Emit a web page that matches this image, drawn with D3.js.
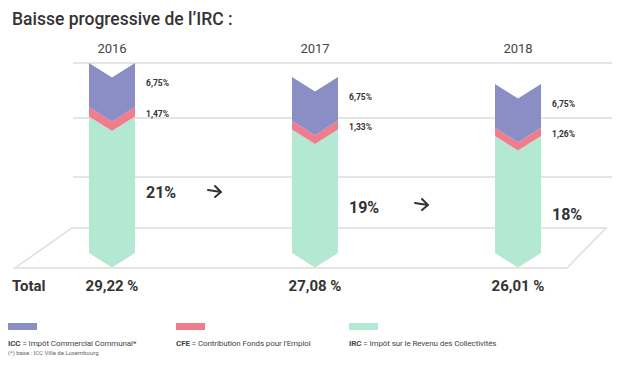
<!DOCTYPE html>
<html>
<head>
<meta charset="utf-8">
<script src="https://cdn.jsdelivr.net/npm/d3@7"></script>
<style>
  body { margin: 0; background: #fff; }
  svg { display: block; font-family: Roboto, "Noto Sans", sans-serif; }
</style>
</head>
<body>
<svg width="621" height="367"></svg>
<script>
// data
var years = ["2016", "2017", "2018"];
var icc = [6.75, 6.75, 6.75];
var cfe = [1.47, 1.33, 1.26];
var irc = [21, 19, 18];
var totals = ["29,22 %", "27,08 %", "26,01 %"];
var iccLabels = ["6,75%", "6,75%", "6,75%"];
var cfeLabels = ["1,47%", "1,33%", "1,26%"];
var ircLabels = ["21%", "19%", "18%"];

var legendItems = [
  { key: "ICC", text: "Impôt Commercial Communal*" },
  { key: "CFE", text: "Contribution Fonds pour l'Emploi" },
  { key: "IRC", text: "Impôt sur le Revenu des Collectivités" }
];

var colors = { ICC: "#8b8ec4", CFE: "#ef7d8c", IRC: "#b3e8d3" };

var svg = d3.select("svg");

// parameters
var barW = 46;
var notch = 14.5;
var gridColor = "#dddddd";

var x = d3.scalePoint().domain(years).range([112, 518]);
var y = d3.scaleLinear().domain([0, 30]).range([253, 58]);

var rows = years.map(function(yr, i) {
  return { year: yr, IRC: irc[i], CFE: cfe[i], ICC: icc[i] };
});
var series = d3.stack().keys(["IRC", "CFE", "ICC"])(rows);

// title
svg.append("text")
  .attr("x", 12)
  .attr("y", 25)
  .attr("font-size", 17.5)
  .attr("font-weight", 500)
  .attr("fill", "#333")
  .text("Baisse progressive de l\u2019IRC :");

// grid lines and floor
var grid = svg.append("g").attr("fill", "none").attr("stroke", gridColor).attr("stroke-width", 1.5);
[63, 118, 177].forEach(function(gy) {
  grid.append("line").attr("x1", 73).attr("x2", 612).attr("y1", gy).attr("y2", gy);
});
grid.append("path")
  .attr("d", "M72,228 L606,228 L567,268 L15,268 Z");

// chevron bars
function chevron(x0, yTop, yBot) {
  var x1 = x0 + barW, xc = x0 + barW / 2;
  return "M" + x0 + "," + yTop + " L" + xc + "," + (yTop + notch) + " L" + x1 + "," + yTop +
    " L" + x1 + "," + yBot + " L" + xc + "," + (yBot + notch) + " L" + x0 + "," + yBot + " Z";
}

svg.append("g").selectAll("g")
  .data(series)
  .enter()
  .append("g")
  .attr("fill", function(s) { return colors[s.key]; })
  .selectAll("path")
  .data(function(s) { return s; })
  .enter()
  .append("path")
  .attr("d", function(d) {
    return chevron(x(d.data.year) - barW / 2, y(d[1]), y(d[0]));
  });

// years
svg.append("g").selectAll("text")
  .data(years)
  .enter()
  .append("text")
  .attr("x", function(d) { return x(d); })
  .attr("y", 53)
  .attr("text-anchor", "middle")
  .attr("font-size", 13)
  .attr("fill", "#444")
  .text(function(d) { return d; });

// small labels
var labelX = function(i) { return x(years[i]) + barW / 2 + 11; };
svg.append("g").selectAll("text")
  .data(iccLabels)
  .enter()
  .append("text")
  .attr("x", function(d, i) { return labelX(i); })
  .attr("y", function(d, i) { return y(irc[i] + cfe[i] + icc[i]) + 23; })
  .attr("font-size", 8.5)
  .attr("font-weight", "bold")
  .attr("fill", "#333")
  .text(function(d) { return d; });

svg.append("g").selectAll("text")
  .data(cfeLabels)
  .enter()
  .append("text")
  .attr("x", function(d, i) { return labelX(i); })
  .attr("y", function(d, i) { return y(irc[i] + cfe[i] / 2) + 5; })
  .attr("font-size", 8.5)
  .attr("font-weight", "bold")
  .attr("fill", "#333")
  .text(function(d) { return d; });

// IRC labels
var ircY = [192, 207, 214];
svg.append("g").selectAll("text")
  .data(ircLabels)
  .enter()
  .append("text")
  .attr("x", function(d, i) { return labelX(i); })
  .attr("y", function(d, i) { return ircY[i] + 6; })
  .attr("font-size", 16)
  .attr("font-weight", "bold")
  .attr("fill", "#333")
  .text(function(d) { return d; });

// arrows between years
var arrowPos = [[208, 191], [415, 204]];
svg.append("g").selectAll("path")
  .data(arrowPos)
  .enter()
  .append("path")
  .attr("transform", function(d) { return "translate(" + d[0] + "," + d[1] + ")"; })
  .attr("d", "M0,-1 L13,1 M7,-5 L13,1 L7,6")
  .attr("fill", "none")
  .attr("stroke", "#333")
  .attr("stroke-width", 2)
  .attr("stroke-linecap", "round")
  .attr("stroke-linejoin", "round");

// totals
svg.append("text")
  .attr("x", 12)
  .attr("y", 291)
  .attr("font-size", 15)
  .attr("font-weight", "bold")
  .attr("fill", "#333")
  .text("Total");

svg.append("g").selectAll("text")
  .data(totals)
  .enter()
  .append("text")
  .attr("x", function(d, i) { return x(years[i]); })
  .attr("y", 291)
  .attr("text-anchor", "middle")
  .attr("font-size", 15)
  .attr("font-weight", "bold")
  .attr("fill", "#333")
  .text(function(d) { return d; });

// legend
var legendX = [8, 176, 349];
var legend = svg.append("g").selectAll("g")
  .data(legendItems)
  .enter()
  .append("g")
  .attr("transform", function(d, i) { return "translate(" + legendX[i] + ",0)"; });

legend.append("rect")
  .attr("x", 0)
  .attr("y", 323)
  .attr("width", 29)
  .attr("height", 7)
  .attr("fill", function(d) { return colors[d.key]; });

var lt = legend.append("text")
  .attr("x", 0)
  .attr("y", 346)
  .attr("font-size", 8)
  .attr("letter-spacing", -0.1)
  .attr("fill", "#444");
lt.append("tspan").attr("font-weight", "bold").text(function(d) { return d.key; });
lt.append("tspan").text(function(d) { return " = " + d.text; });

svg.append("text")
  .attr("x", 8)
  .attr("y", 355)
  .attr("font-size", 6)
  .attr("fill", "#666")
  .text("(*) base : ICC Ville de Luxembourg");
</script>
</body>
</html>
